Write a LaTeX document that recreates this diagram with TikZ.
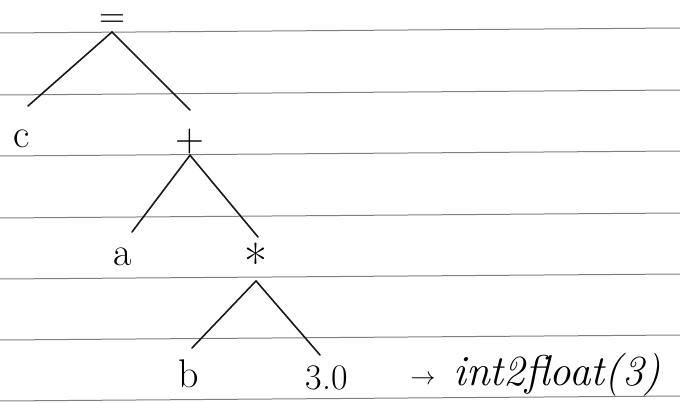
\documentclass[tikz,border=0pt]{standalone}
\usepackage{fontspec}
\setmainfont{Latin Modern Roman}
\begin{document}
\begin{tikzpicture}[x=1pt,y=-1pt,
  lab/.style={inner sep=0pt, font=\fontsize{40}{44}\selectfont},
  edge/.style={line width=1.6pt, black!90, line cap=round},
  rule/.style={line width=1pt, black!50}]
\useasboundingbox (0,0) rectangle (680,403);
\fill[white] (0,0) rectangle (680,403);
% ruled paper
\foreach \y in {32,94,155,217,278,339,400}
  \draw[rule] (0,\y+1) -- (680,\y-4);
% tree nodes
\node[lab, anchor=south, inner ysep=4pt, text height=10pt, text depth=0pt, font=\fontsize{36}{40}\selectfont] (eq) at (112,32) {=};
\node[lab] (c) at (22,139) {c};
\node[lab, minimum height=26pt] (plus) at (190,142) {+};
\node[lab] (a) at (123,257) {a};
\node[lab, minimum height=22pt, font=\fontsize{50}{54}\selectfont] (star) at (256,262) {\raisebox{-0.3em}{*}};
\node[lab] (b) at (189,374) {b};
\node[lab, font=\fontsize{36}{40}\selectfont] (three) at (327,378) {3.0};
\node[lab, font=\fontsize{24}{28}\selectfont] (arr) at (423,380) {$\rightarrow$};
\node[lab, anchor=west, font=\fontsize{43}{46}\selectfont\itshape] (conv) at (453,375) {int2float(3)};
% edge ends just above each child
\coordinate (cTop) at (28,106);
\coordinate (plusTop) at (190,110);
\coordinate (aTop) at (132,232);
\coordinate (starTop) at (258,237);
\coordinate (bTop) at (192,348);
\coordinate (threeTop) at (320,355);
% edges
\draw[edge] (eq.south) -- (cTop);
\draw[edge] (eq.south) -- (plusTop);
\draw[edge] (plus.south) -- (aTop);
\draw[edge] (plus.south) -- (starTop);
\draw[edge] (star.south) -- (bTop);
\draw[edge] (star.south) -- (threeTop);
\end{tikzpicture}
\end{document}
